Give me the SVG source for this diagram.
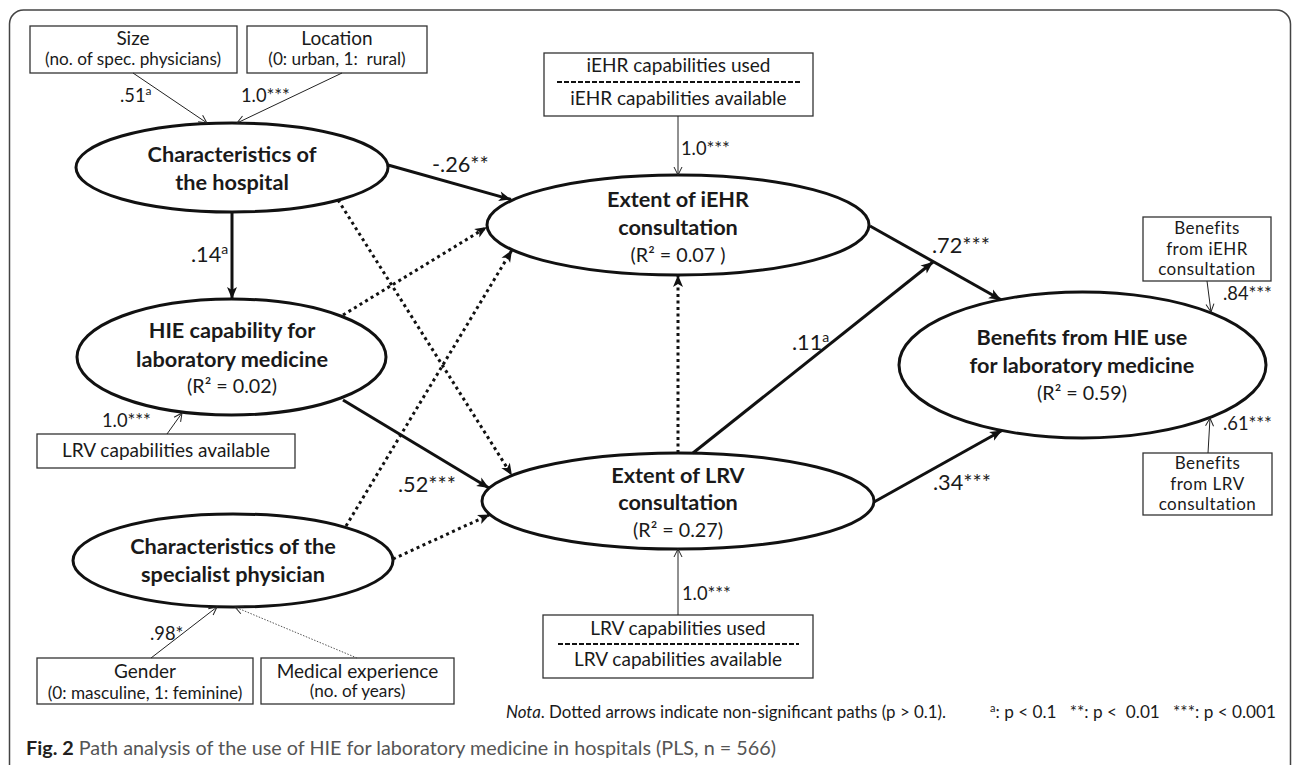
<svg xmlns="http://www.w3.org/2000/svg" width="1292" height="765" viewBox="0 0 1292 765">
<style>
 text { font-family: Lato, "Open Sans", "Liberation Sans", sans-serif; fill:#1a1a1a; }
 .b { font-weight: bold; font-size: 21.7px; text-anchor: middle; }
 .r2 { font-size: 19.7px; text-anchor: middle; }
 .bx { font-size: 17.2px; text-anchor: middle; white-space: pre; }
 .bt { font-size: 19px; text-anchor: middle; }
 .bb { font-size: 17px; letter-spacing: 0.5px; text-anchor: middle; }
 .lbl { font-size: 21.7px; }
 .sl { font-size: 18.3px; }
 .ell { fill: #fff; stroke: #111; stroke-width: 3; }
 .box { fill: #fff; stroke: #333; stroke-width: 1.3; }
 .solid { stroke:#111; stroke-width:3; fill:none; marker-end:url(#ah); }
 .dot { stroke:#111; stroke-width:3; stroke-dasharray:3 3.5; fill:none; marker-end:url(#ah); }
 .thin { stroke:#222; stroke-width:1; fill:none; marker-end:url(#oa); }
 .thindot { stroke:#555; stroke-width:1; stroke-dasharray:1.5 1.5; fill:none; marker-end:url(#oa); }
 .frac { stroke:#111; stroke-width:2; stroke-dasharray:5 2; }
</style>
<defs>
 <marker id="ah" markerUnits="userSpaceOnUse" markerWidth="14" markerHeight="12" refX="12" refY="5" orient="auto" overflow="visible"><path d="M0,0 L12,5 L0,10 L3,5 z" fill="#111"/></marker>
 <marker id="oa" markerUnits="userSpaceOnUse" markerWidth="10" markerHeight="10" refX="8" refY="4" orient="auto" overflow="visible"><path d="M0,0 L8,4 L0,8" fill="none" stroke="#222" stroke-width="1"/></marker>
</defs>
<rect x="9.5" y="10" width="1281" height="790" rx="14" fill="none" stroke="#444" stroke-width="1.5"/>

<g id="n-size"><rect class="box" x="30" y="26" width="207" height="47"/><text class="bt" x="133" y="45">Size</text><text class="bx" x="133" y="65">(no. of spec. physicians)</text></g>
<g id="n-location"><rect class="box" x="247" y="26" width="180" height="47"/><text class="bt" x="337" y="45">Location</text><text class="bx" x="337" y="65">(0: urban, 1:  rural)</text></g>
<g id="n-iehrcap"><rect class="box" x="544" y="53" width="269" height="63"/><text class="bt" x="678.5" y="72">iEHR capabilities used</text><line class="frac" x1="557" y1="82" x2="801" y2="82"/><text class="bt" x="678.5" y="105">iEHR capabilities available</text></g>
<g id="n-lrvavail"><rect class="box" x="37" y="434" width="258" height="34"/><text class="bt" x="166" y="457">LRV capabilities available</text></g>
<g id="n-gender"><rect class="box" x="37" y="658" width="216" height="46"/><text class="bt" x="145" y="678">Gender</text><text class="bx" x="145" y="699">(0: masculine, 1: feminine)</text></g>
<g id="n-medexp"><rect class="box" x="261" y="658" width="193" height="46"/><text class="bt" x="357.5" y="678">Medical experience</text><text class="bx" x="357.5" y="697">(no. of years)</text></g>
<g id="n-lrvcap"><rect class="box" x="543" y="615" width="270" height="63"/><text class="bt" x="678" y="635">LRV capabilities used</text><line class="frac" x1="558" y1="644" x2="799" y2="644"/><text class="bt" x="678" y="666">LRV capabilities available</text></g>
<g id="n-beniehr"><rect class="box" x="1143" y="217" width="128" height="64"/><text class="bb" x="1207" y="234">Benefits</text><text class="bb" x="1207" y="254.5">from iEHR</text><text class="bb" x="1207" y="275">consultation</text></g>
<g id="n-benlrv"><rect class="box" x="1143" y="453" width="129" height="62"/><text class="bb" x="1207.5" y="469">Benefits</text><text class="bb" x="1207.5" y="489.5">from LRV</text><text class="bb" x="1207.5" y="510">consultation</text></g>

<g id="n-hospital"><ellipse class="ell" cx="232" cy="167.5" rx="156" ry="44.5"/><text class="b" x="232" y="162">Characteristics of</text><text class="b" x="232" y="190">the hospital</text></g>
<g id="n-hie"><ellipse class="ell" cx="231.5" cy="357" rx="154.5" ry="58"/><text class="b" x="232" y="338">HIE capability for</text><text class="b" x="232" y="367">laboratory medicine</text><text class="r2" x="232" y="393">(R² = 0.02)</text></g>
<g id="n-specialist"><ellipse class="ell" cx="233" cy="560.5" rx="160" ry="46.5"/><text class="b" x="233" y="554">Characteristics of the</text><text class="b" x="233" y="582">specialist physician</text></g>
<g id="n-iehr"><ellipse class="ell" cx="678" cy="225" rx="191" ry="50"/><text class="b" x="678" y="207">Extent of iEHR</text><text class="b" x="678" y="235">consultation</text><text class="r2" x="678" y="262">(R² = 0.07 )</text></g>
<g id="n-lrv"><ellipse class="ell" cx="678" cy="501" rx="196" ry="48"/><text class="b" x="678" y="483">Extent of LRV</text><text class="b" x="678" y="510">consultation</text><text class="r2" x="678" y="537">(R² = 0.27)</text></g>
<g id="n-benefits"><ellipse class="ell" cx="1082.5" cy="365" rx="183.5" ry="73"/><text class="b" x="1082" y="345">Benefits from HIE use</text><text class="b" x="1082" y="373">for laboratory medicine</text><text class="r2" x="1082" y="400">(R² = 0.59)</text></g>

<g id="connectors">
 <line class="thin" x1="133" y1="73" x2="207" y2="123"/>
 <line class="thin" x1="342" y1="73" x2="237" y2="123"/>
 <line class="thin" x1="678" y1="116" x2="678" y2="175"/>
 <line class="thin" x1="678" y1="615" x2="678" y2="549"/>
 <line class="thin" x1="167" y1="434" x2="182" y2="413"/>
 <line class="thin" x1="151" y1="658" x2="217" y2="607"/>
 <line class="thindot" x1="357" y1="658" x2="235" y2="607"/>
 <line class="thin" x1="1207" y1="281" x2="1211" y2="312"/>
 <line class="thin" x1="1208" y1="453" x2="1210" y2="418"/>

 <line class="solid" x1="388" y1="165" x2="511" y2="199.5"/>
 <line class="solid" x1="232" y1="212" x2="232" y2="299"/>
 <line class="dot" x1="338" y1="200" x2="512" y2="475.5"/>
 <line class="dot" x1="343" y1="315" x2="487" y2="227"/>
 <line class="solid" x1="343" y1="400" x2="489" y2="488"/>
 <line class="dot" x1="346" y1="526" x2="512" y2="250"/>
 <line class="dot" x1="393" y1="559" x2="490" y2="514.5"/>
 <line class="dot" x1="678" y1="453" x2="678" y2="275"/>
 <line class="solid" x1="693" y1="453" x2="933" y2="262"/>
 <line class="solid" x1="870" y1="226" x2="1001" y2="299.7"/>
 <line class="solid" x1="874" y1="502" x2="1002" y2="430.5"/>
</g>

<g id="labels">
 <text class="sl" x="120" y="102">.51<tspan dy="-7" font-size="12">a</tspan></text>
 <text class="sl" x="241" y="102">1.0***</text>
 <text class="sl" x="681" y="155">1.0***</text>
 <text class="lbl" x="432" y="172">-.26**</text>
 <text class="lbl" x="191" y="262">.14<tspan dy="-8" font-size="14">a</tspan></text>
 <text class="sl" x="102" y="427">1.0***</text>
 <text class="lbl" x="398" y="492">.52***</text>
 <text class="lbl" x="792" y="350">.11<tspan dy="-8" font-size="14">a</tspan></text>
 <text class="lbl" x="932" y="253">.72***</text>
 <text class="lbl" x="933" y="490">.34***</text>
 <text class="sl" x="1223" y="300">.84***</text>
 <text class="sl" x="1223" y="430">.61***</text>
 <text class="sl" x="150" y="640">.98*</text>
 <text class="sl" x="682" y="600">1.0***</text>
</g>

<text x="506" y="718" font-size="16.9"><tspan font-style="italic">Nota</tspan>. Dotted arrows indicate non-significant paths (p &gt; 0.1).</text>
<text x="990" y="718" font-size="17.2" style="white-space:pre"><tspan dy="-6" font-size="11">a</tspan><tspan dy="6">: p &lt; 0.1   **: p &lt;  0.01   ***: p &lt; 0.001</tspan></text>
<text x="26" y="755" font-size="19.8"><tspan font-weight="bold" fill="#231f20">Fig. 2</tspan><tspan fill="#555"> Path analysis of the use of HIE for laboratory medicine in hospitals (PLS, n = 566)</tspan></text>
</svg>
